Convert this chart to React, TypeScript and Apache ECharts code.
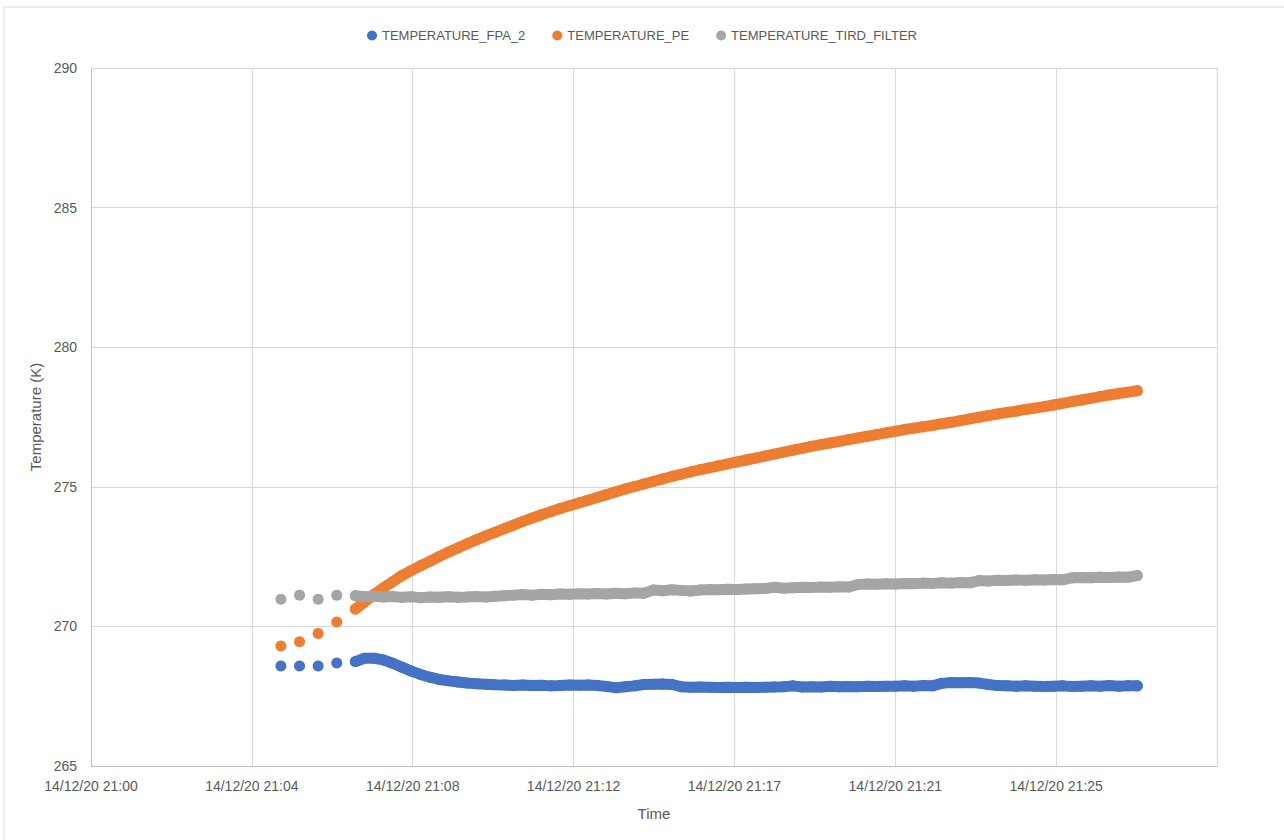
import React, { useEffect, useRef } from "react";
import * as echarts from "echarts";

const SERIES_NAMES = ["TEMPERATURE_FPA_2", "TEMPERATURE_PE", "TEMPERATURE_TIRD_FILTER"];
const SERIES_COLORS = ["#4472C4", "#ED7D31", "#A5A5A5"];

// Sample times (hh:mm:ss on 14/12/20)
const SPARSE_TIMES = ["21:05:06", "21:05:36", "21:06:06", "21:06:36"];
const DENSE_START = "21:07:06";
const DENSE_STEP_SECONDS = 15;

const FPA2_SPARSE = [268.58, 268.58, 268.58, 268.69];
const PE_SPARSE = [269.3, 269.45, 269.75, 270.16];
const TIRD_SPARSE = [270.97, 271.12, 270.97, 271.12];

const FPA2_DENSE = [
  268.74, 268.86, 268.86, 268.8, 268.68, 268.54, 268.4, 268.28, 268.18, 268.1,
  268.05, 268.01, 267.97, 267.95, 267.93, 267.91, 267.9, 267.88, 267.9, 267.88,
  267.89, 267.87, 267.88, 267.9, 267.89, 267.9, 267.88, 267.85, 267.8, 267.84,
  267.87, 267.92, 267.93, 267.94, 267.92, 267.84, 267.82, 267.83, 267.82, 267.81,
  267.82, 267.81, 267.82, 267.81, 267.82, 267.83, 267.84, 267.87, 267.83, 267.84,
  267.83, 267.86, 267.84, 267.85, 267.84, 267.86, 267.85, 267.86, 267.86, 267.87,
  267.86, 267.88, 267.87, 267.96, 267.99, 267.98, 267.99, 267.97, 267.92, 267.88,
  267.87, 267.86, 267.87, 267.86, 267.85, 267.86, 267.87, 267.85, 267.86, 267.87,
  267.86, 267.88, 267.86, 267.87, 267.87,
];

const PE_DENSE = [
  270.62, 270.88, 271.14, 271.38, 271.6, 271.82, 272.0, 272.17, 272.33, 272.5,
  272.66, 272.81, 272.96, 273.1, 273.24, 273.37, 273.5, 273.63, 273.76, 273.88,
  274.0, 274.11, 274.22, 274.32, 274.42, 274.52, 274.62, 274.72, 274.82, 274.92,
  275.01, 275.1, 275.19, 275.28, 275.37, 275.45, 275.53, 275.61, 275.68, 275.75,
  275.82, 275.89, 275.96, 276.03, 276.1, 276.17, 276.24, 276.31, 276.38, 276.45,
  276.51, 276.57, 276.63, 276.69, 276.75, 276.81, 276.87, 276.93, 276.99, 277.05,
  277.1, 277.15, 277.2, 277.26, 277.31, 277.37, 277.43, 277.49, 277.55, 277.61,
  277.66, 277.71, 277.77, 277.82, 277.87, 277.93, 277.99, 278.05, 278.11, 278.17,
  278.23, 278.29, 278.34, 278.39, 278.44,
];

const TIRD_DENSE = [
  271.1, 271.06, 271.08, 271.05, 271.07, 271.04, 271.06, 271.03, 271.05, 271.04,
  271.06, 271.04, 271.05, 271.07, 271.05, 271.08, 271.1, 271.12, 271.14, 271.12,
  271.15, 271.13, 271.16, 271.15, 271.17, 271.16, 271.18, 271.16, 271.19, 271.17,
  271.2, 271.19, 271.3, 271.28, 271.31, 271.29, 271.27, 271.3, 271.32, 271.31,
  271.33, 271.32, 271.34, 271.35, 271.36, 271.4, 271.37, 271.38, 271.4, 271.39,
  271.41, 271.4, 271.42, 271.41, 271.5, 271.52, 271.51, 271.53, 271.52, 271.54,
  271.53, 271.55, 271.54, 271.56, 271.55, 271.57, 271.56, 271.64, 271.63, 271.65,
  271.64, 271.66, 271.65, 271.67, 271.66, 271.68, 271.67, 271.74, 271.75, 271.74,
  271.76, 271.75, 271.77, 271.76, 271.82,
];

const DATE_PREFIX = "14/12/20";
const X_MIN = 0; // minutes after 21:00
const X_INTERVAL = 4.32; // 0.003 day
const X_MAX = 30.24;
const Y_MIN = 265;
const Y_MAX = 290;
const Y_INTERVAL = 5;

function toMinutes(hms: string): number {
  const [h, m, s] = hms.split(":").map(Number);
  return (h - 21) * 60 + m + s / 60;
}

function sparsePoints(values: number[]): number[][] {
  return values.map((v, i) => [toMinutes(SPARSE_TIMES[i]), v]);
}

function densePoints(values: number[]): number[][] {
  const start = toMinutes(DENSE_START);
  return values.map((v, i) => [start + (i * DENSE_STEP_SECONDS) / 60, v]);
}

export default function App() {
  const ref = useRef<HTMLDivElement>(null);
  useEffect(() => {
    document.body.style.margin = "0";
    if (!ref.current) return;
    const chart = echarts.init(ref.current, undefined, { renderer: "svg" });
    const font = "Liberation Sans, Arial, sans-serif";
    const sparse = [sparsePoints(FPA2_SPARSE), sparsePoints(PE_SPARSE), sparsePoints(TIRD_SPARSE)];
    const dense = [densePoints(FPA2_DENSE), densePoints(PE_DENSE), densePoints(TIRD_DENSE)];
    const series: any[] = [];
    SERIES_NAMES.forEach((name, i) => {
      series.push({
        name,
        type: "scatter",
        symbol: "circle",
        symbolSize: 11,
        itemStyle: { color: SERIES_COLORS[i], opacity: 1 },
        data: sparse[i],
        z: 2 + i,
      });
      series.push({
        name,
        type: "line",
        symbol: "circle",
        symbolSize: 11,
        showSymbol: true,
        showAllSymbol: true,
        itemStyle: { color: SERIES_COLORS[i], opacity: 1, borderWidth: 0 },
        lineStyle: { color: SERIES_COLORS[i], width: 11, cap: "round", join: "round" },
        data: dense[i],
        z: 2 + i,
      });
    });
    chart.setOption({
      animation: false,
      backgroundColor: "#ffffff",
      textStyle: { fontFamily: font },
      graphic: [
        {
          type: "rect",
          shape: { x: 4, y: 7, width: 1300, height: 900 },
          style: { fill: "none", stroke: "#D9D9D9", lineWidth: 1 },
          silent: true,
        },
      ],
      legend: {
        top: 24,
        left: "center",
        icon: "circle",
        itemWidth: 10,
        itemHeight: 10,
        itemGap: 27,
        textStyle: { fontSize: 13, color: "#595959", fontFamily: font },
        data: SERIES_NAMES,
      },
      grid: { left: 91, right: 67, top: 68, bottom: 74, containLabel: false },
      xAxis: {
        type: "value",
        min: X_MIN,
        max: X_MAX,
        interval: X_INTERVAL,
        name: "Time",
        nameLocation: "middle",
        nameGap: 40,
        nameTextStyle: { fontSize: 15, color: "#595959", fontFamily: font },
        axisLine: { show: true, lineStyle: { color: "#BFBFBF" } },
        axisTick: { show: false },
        splitLine: { show: true, lineStyle: { color: "#D9D9D9" } },
        axisLabel: {
          fontSize: 14,
          color: "#595959",
          margin: 13,
          fontFamily: font,
          formatter: (v: number) => {
            if (v > X_MAX - 1) return "";
            const mm = Math.floor(v + 1e-6);
            return `${DATE_PREFIX} 21:${String(mm).padStart(2, "0")}`;
          },
        },
      },
      yAxis: {
        type: "value",
        min: Y_MIN,
        max: Y_MAX,
        interval: Y_INTERVAL,
        name: "Temperature (K)",
        nameLocation: "middle",
        nameGap: 47,
        nameTextStyle: { fontSize: 15, color: "#595959", fontFamily: font },
        axisLine: { show: true, lineStyle: { color: "#BFBFBF" } },
        axisTick: { show: false },
        splitLine: { show: true, lineStyle: { color: "#D9D9D9" } },
        axisLabel: { fontSize: 14, color: "#595959", margin: 14, fontFamily: font },
      },
      series,
    });
    return () => chart.dispose();
  }, []);
  return <div ref={ref} style={{ width: 1284, height: 840 }} />;
}
